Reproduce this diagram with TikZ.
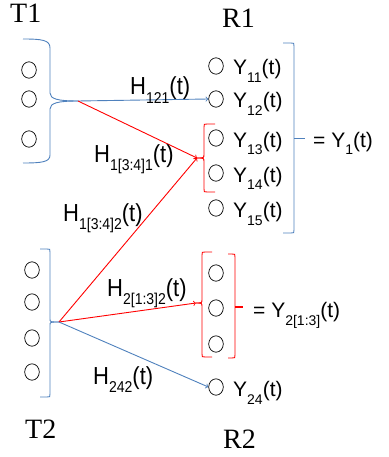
\documentclass[tikz,border=0pt]{standalone}
\usepackage{fontspec}
\setmainfont{Liberation Sans}
\newfontfamily\tnr{Liberation Serif}
\usetikzlibrary{shapes.geometric}
\definecolor{bracketblue}{HTML}{4F81BD}
\newcommand\sbs[1]{\raisebox{-8pt}{\fontsize{14}{15}\selectfont #1}}
\newcommand\tall[1]{\scalebox{1}[1.12]{#1}}

\begin{document}
\begin{tikzpicture}[x=1pt,y=-1pt,
  antenna/.style={draw,ellipse,minimum width=14.6pt,minimum height=16.4pt,inner sep=0pt,line width=0.7pt},
  lbl/.style={anchor=base west,inner sep=0pt,font=\fontsize{21}{24}\selectfont},
  hlbl/.style={lbl,font=\fontsize{22}{24}\selectfont},
  side/.style={anchor=base west,inner sep=0pt,font=\fontsize{28}{30}\selectfont\tnr},
  bl/.style={bracketblue,line width=0.9pt},
  rd/.style={red,line width=0.9pt}]

\useasboundingbox (0,0) rectangle (388,457);

% Side names
\node[side] (T1) at (10,23) {T1};
\node[side] (R1) at (222,28) {R1};
\node[side] (T2) at (25,438) {T2};
\node[side] (R2) at (223,448) {R2};

% Transmit antennas
\node[antenna] (t11) at (29,70) {};
\node[antenna] (t12) at (29,99) {};
\node[antenna] (t13) at (29,139) {};

\node[antenna] (t21) at (32,270) {};
\node[antenna] (t22) at (32,302) {};
\node[antenna] (t23) at (32,338) {};
\node[antenna] (t24) at (32,372) {};

% Receive antennas
\foreach \i/\y in {1/66,2/99,3/138,4/173,5/208}
  \node[antenna] (r1\i) at (216,\y) {};
\foreach \i/\y in {1/273,2/308,3/344,4/387}
  \node[antenna] (r2\i) at (216,\y) {};

\foreach \i in {1,...,5}
  \node[lbl] (y1\i) at ([shift={(17,9)}]r1\i.center) {Y\sbs{1\i}(t)};
\node[lbl] (y24) at ([shift={(17,9)}]r24.center) {Y\sbs{24}(t)};

% Braces at T1 and T2
\coordinate (t1tip) at (78,101);
\draw[bl] (23,39) .. controls (42,39) and (50,40) .. (50,48) -- (50,93)
  .. controls (50,99) and (58,101) .. (t1tip);
\draw[bl] (t1tip) .. controls (58,101) and (50,103) .. (50,109) -- (50,155)
  .. controls (50,162) and (42,163) .. (23,163);

\coordinate (t2tip) at (59,322);
\draw[bl] (40,249) -- (47,249) .. controls (50,249) .. (50,252) -- (50,319)
  .. controls (50,322) .. (t2tip);
\draw[bl] (t2tip) .. controls (50,322) .. (50,325) -- (50,394)
  .. controls (50,397) .. (47,397) -- (40,397);

% Groups at R1
\coordinate (r1tip) at (197,158);
\draw[rd] (215,124) -- (207,124) .. controls (204,124) .. (204,127) -- (204,154)
  .. controls (204,158) .. (r1tip);
\draw[rd] (r1tip) .. controls (204,158) .. (204,162) -- (204,189)
  .. controls (204,192) .. (207,192) -- (215,192);

\draw[bl] (283,43) -- (291,43) .. controls (294,43) .. (294,46) -- (294,230)
  .. controls (294,233) .. (291,233) -- (283,233);
\draw[bl] (294,138) -- (305,138);
\node[lbl] (y1) at (313,147) {= Y\sbs{1}(t)};

% Group at R2
\coordinate (r2tip) at (196,303);
\draw[rd] (212,252) -- (205,252) .. controls (202,252) .. (202,255) -- (202,299)
  .. controls (202,303) .. (r2tip);
\draw[rd] (r2tip) .. controls (202,303) .. (202,307) -- (202,354)
  .. controls (202,357) .. (205,357) -- (212,357);

\draw[rd] (228,254) -- (232,254) .. controls (235,254) .. (235,257) -- (235,355)
  .. controls (235,358) .. (232,358) -- (228,358);
\draw[red,line width=2pt] (235,307) -- (243,307);
\node[lbl] (y2) at (253,317) {= Y\sbs{2[1:3]}(t)};

% Channels
\draw[bl,->] (t1tip) -- (r12.west);
\draw[rd,->] (t1tip) -- (r1tip);
\draw[rd,->] (t2tip) -- (r1tip);
\draw[rd,->] (t2tip) -- (r2tip);
\draw[bl,->] (t2tip) -- (r24.west);

\node[hlbl] (h121) at (130,95) {\tall{H\sbs{121}(t)}};
\node[hlbl] (h1341) at (94,162) {\tall{H\sbs{1[3:4]1}(t)}};
\node[hlbl] (h1342) at (63,221) {\tall{H\sbs{1[3:4]2}(t)}};
\node[hlbl] (h2132) at (107,296) {\tall{H\sbs{2[1:3]2}(t)}};
\node[hlbl] (h242) at (93,384) {\tall{H\sbs{242}(t)}};

\end{tikzpicture}
\end{document}
